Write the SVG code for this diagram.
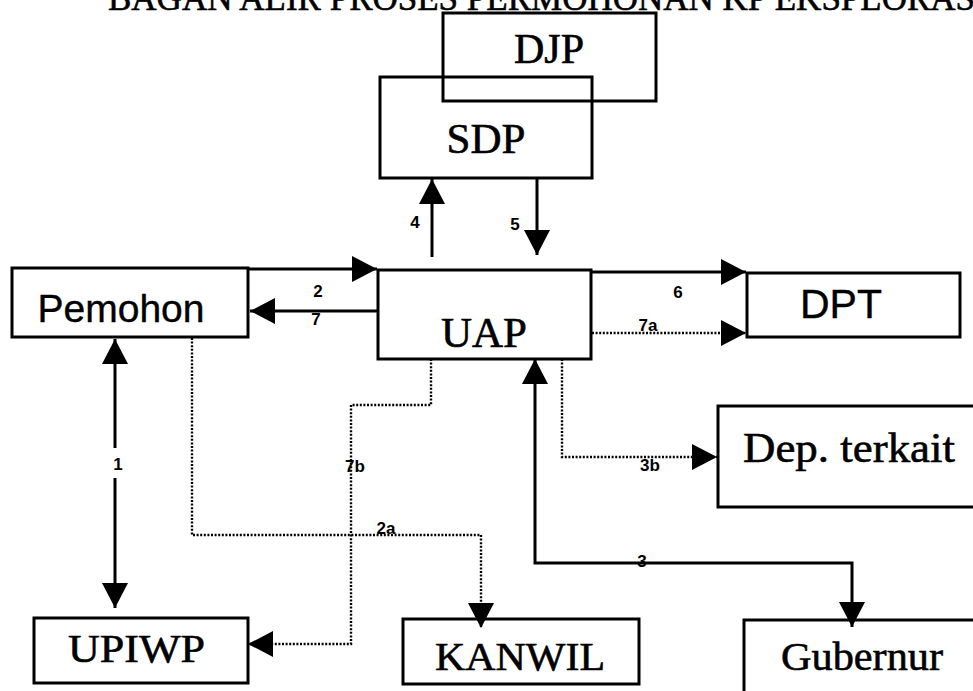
<svg xmlns="http://www.w3.org/2000/svg" width="973" height="691" viewBox="0 0 973 691">
<style>
.box{fill:none;stroke:#000;stroke-width:3}
.serif{font-family:"Liberation Serif","Times New Roman",serif;fill:#000;stroke:#000;stroke-width:0.6}
.sans{font-family:"Liberation Sans",Arial,sans-serif;fill:#000;stroke:#000;stroke-width:0.4}
.lbl{font-family:"Liberation Sans",Arial,sans-serif;font-weight:bold;font-size:17px;fill:#000}
.solid{fill:none;stroke:#000;stroke-width:3}
.dot{fill:none;stroke:#000;stroke-width:2.4;stroke-dasharray:2 1.6}
</style>
<defs>
<marker id="arr" markerUnits="userSpaceOnUse" markerWidth="26" markerHeight="26" refX="25" refY="13" orient="auto-start-reverse" viewBox="0 0 26 26">
<path d="M0,0 L25,13 L0,26 Z" fill="#000"/>
</marker>
</defs>
<rect width="973" height="691" fill="#fff"/>
<text class="serif" x="108" y="10" font-size="35">BAGAN ALIR PROSES PERMOHONAN KP EKSPLORASI</text>

<g id="connectors">
<path class="solid" d="M115,448 L115,339" marker-end="url(#arr)"/>
<path class="solid" d="M115,478 L115,608" marker-end="url(#arr)"/>
<path class="solid" d="M249,269 L377,269" marker-end="url(#arr)"/>
<path class="solid" d="M377,311 L250,311" marker-end="url(#arr)"/>
<path class="solid" d="M432,257 L432,179" marker-end="url(#arr)"/>
<path class="solid" d="M537,178 L537,255" marker-end="url(#arr)"/>
<path class="solid" d="M592,272 L746,272" marker-end="url(#arr)"/>
<path class="dot" d="M592,333 L746,333" marker-end="url(#arr)"/>
<path class="dot" d="M562,359 L562,457 L717,457" marker-end="url(#arr)"/>
<path class="solid" d="M535,359 L535,563 L852,563 L852,627" marker-start="url(#arr)" marker-end="url(#arr)"/>
<path class="dot" d="M431,359 L431,405 L351,405 L351,644 L248,644" marker-end="url(#arr)"/>
<path class="dot" d="M192,338 L192,535 L481,535 L481,628" marker-end="url(#arr)"/>
<text class="lbl" x="118" y="470" text-anchor="middle">1</text>
<text class="lbl" x="318" y="297" text-anchor="middle">2</text>
<text class="lbl" x="316" y="325" text-anchor="middle">7</text>
<text class="lbl" x="415" y="228" text-anchor="middle">4</text>
<text class="lbl" x="515" y="230" text-anchor="middle">5</text>
<text class="lbl" x="678" y="298" text-anchor="middle">6</text>
<text class="lbl" x="648" y="331" text-anchor="middle" font-size="14">7a</text>
<text class="lbl" x="355" y="472" text-anchor="middle" font-size="15">7b</text>
<text class="lbl" x="386" y="534" text-anchor="middle" font-size="14">2a</text>
<text class="lbl" x="642" y="567" text-anchor="middle" font-size="15">3</text>
<text class="lbl" x="650" y="471" text-anchor="middle" font-size="15">3b</text>
</g>

<g id="node-djp">
<rect class="box" x="443" y="13" width="213" height="88"/>
<text class="serif" x="549" y="63" font-size="42" text-anchor="middle">DJP</text>
</g>
<g id="node-sdp">
<rect class="box" x="380" y="77" width="212" height="101"/>
<text class="serif" x="486" y="153" font-size="43" text-anchor="middle">SDP</text>
</g>
<g id="node-pemohon">
<rect class="box" x="12" y="268" width="236" height="69"/>
<text class="sans" x="121" y="322" font-size="39" text-anchor="middle">Pemohon</text>
</g>
<g id="node-uap">
<rect class="box" x="378" y="270" width="213" height="89"/>
<text class="serif" x="484" y="347" font-size="43" text-anchor="middle">UAP</text>
</g>
<g id="node-dpt">
<rect class="box" x="747" y="273" width="213" height="64"/>
<text class="sans" x="841" y="318" font-size="41" text-anchor="middle">DPT</text>
</g>
<g id="node-dep">
<rect class="box" x="718" y="406" width="290" height="101"/>
<text class="serif" x="743" y="462" font-size="43" textLength="212" lengthAdjust="spacingAndGlyphs">Dep. terkait</text>
</g>
<g id="node-upiwp">
<rect class="box" x="34" y="618" width="214" height="65"/>
<text class="serif" x="68" y="662" font-size="40" textLength="137" lengthAdjust="spacingAndGlyphs">UPIWP</text>
</g>
<g id="node-kanwil">
<rect class="box" x="403" y="619" width="236" height="65"/>
<text class="serif" x="435" y="670" font-size="40" textLength="170" lengthAdjust="spacingAndGlyphs">KANWIL</text>
</g>
<g id="node-gubernur">
<rect class="box" x="744" y="620" width="270" height="100"/>
<text class="serif" x="781" y="670" font-size="41" textLength="162" lengthAdjust="spacingAndGlyphs">Gubernur</text>
</g>
</svg>
